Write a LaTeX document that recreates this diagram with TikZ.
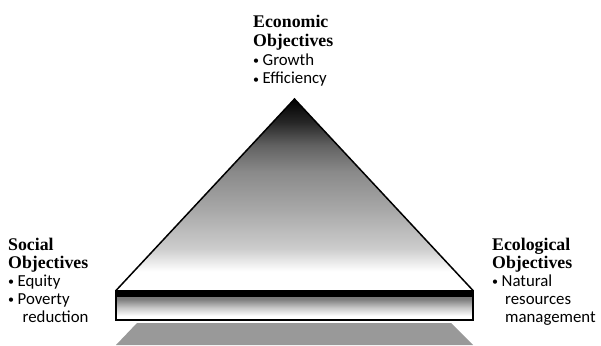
\documentclass[tikz,border=0pt]{standalone}
\usepackage{fontspec}
\setmainfont{Liberation Serif}
\newfontfamily\itemfont{Carlito}
% grey ramp of the pyramid: white near the base, black at the apex
\pgfdeclareverticalshading{pyramidshade}{100bp}{color(0bp)=(white); color(30bp)=(white); color(36bp)=(black!20); color(46bp)=(black!34); color(56bp)=(black!46); color(63bp)=(black!62); color(69bp)=(black!85); color(75bp)=(black); color(100bp)=(black)}
% grey ramp of the base slab below its black top strip
\pgfdeclareverticalshading{slabshade}{100bp}{color(0bp)=(white); color(32bp)=(white); color(46bp)=(black!22); color(60bp)=(black!50); color(75bp)=(black!58); color(100bp)=(black!58)}
\newcommand{\bul}{{\fontsize{12}{12}\selectfont\raisebox{0.8pt}{•}}\hspace{3.5pt}}
\begin{document}
\begin{tikzpicture}[x=1pt,y=-1pt,
  label block/.style={anchor=north west, inner sep=0pt, align=left,
    font=\fontsize{17.8}{18}\selectfont},
  top block/.style={label block, font=\fontsize{17.8}{18.8}\selectfont},
  outline/.style={draw=black, line width=1.5pt, line join=miter}]
\useasboundingbox (0,0) rectangle (601,345);

% named corners
\coordinate (apex) at (294.5,99);
\coordinate (bl) at (116,290.5);
\coordinate (br) at (473,290.5);
\coordinate (sl) at (116,320);
\coordinate (sr) at (473,320);

% lower frustum peeking out below the slab
\fill[black!40] (137,323) -- (451,323) -- (473,345) -- (116,345) -- cycle;

% pyramid body
\shade[shading=pyramidshade] (apex) -- (br) -- (bl) -- cycle;
\draw[outline] (bl) -- (apex) -- (br);

% slab: shaded body, black top strip, outline
\shade[shading=slabshade] (bl) rectangle (sr);
\fill[black] (bl) rectangle (473,296.5);
\draw[black, line width=1.3pt] (bl) rectangle (sr);

% objective labels
\node[top block] (economic) at (253,15)
  {\bfseries Economic\\ \bfseries Objectives\\
   {\itemfont\fontsize{16.8}{18.8}\selectfont \bul Growth}\\
   {\itemfont\fontsize{16.8}{18.8}\selectfont \bul Efficiency}};

\node[label block] (social) at (8,238)
  {\bfseries Social\\ \bfseries Objectives\\
   {\itemfont\fontsize{16.8}{18}\selectfont \bul Equity}\\
   {\itemfont\fontsize{16.8}{18}\selectfont \bul Poverty}\\
   {\itemfont\fontsize{16.8}{18}\selectfont\hspace*{14.5pt}reduction}};

\node[label block] (ecological) at (492,238)
  {\bfseries Ecological\\ \bfseries Objectives\\
   {\itemfont\fontsize{16.8}{18}\selectfont \bul Natural}\\
   {\itemfont\fontsize{16.8}{18}\selectfont\hspace*{13pt}resources}\\
   {\itemfont\fontsize{16.8}{18}\selectfont\hspace*{13pt}management}};
\end{tikzpicture}
\end{document}
